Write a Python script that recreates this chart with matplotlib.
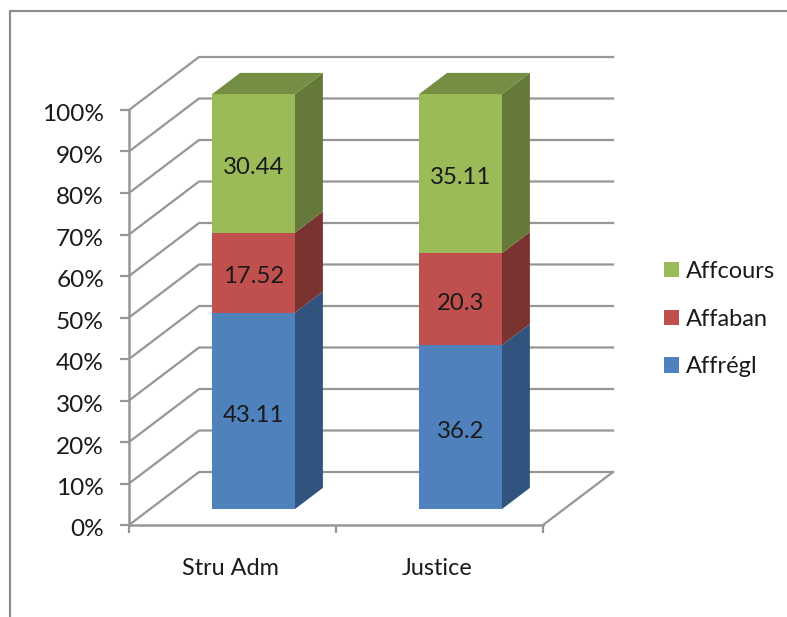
import numpy as np
import matplotlib
matplotlib.use('Agg')
import matplotlib.pyplot as plt
from matplotlib.lines import Line2D
from matplotlib.patches import Patch, Polygon
from matplotlib.transforms import ScaledTranslation

categories = ['Stru Adm', 'Justice']
series_names = ['Affrégl', 'Affaban', 'Affcours']
affregl = [43.11, 36.2]
affaban = [17.52, 20.3]
affcours = [30.44, 35.11]
percent_ticks = [0, 10, 20, 30, 40, 50, 60, 70, 80, 90, 100]

front_colors = ['#4F81BD', '#C0504D', '#9BBB59']
side_colors = ['#31547E', '#7A3330', '#64793A']
top_color = '#748E43'
grid_color = '#969696'
text_color = '#1a1a1a'

plt.rcParams['font.family'] = ['Lato', 'DejaVu Sans']

W, H = 787, 617
fig = plt.figure(figsize=(W / 100, H / 100), dpi=100)

# plot area is the front plane of the 3D box
ax = fig.add_axes([129 / W, 1 - 525 / H, 414 / W, 415 / H])
ax.set_xlim(0, 2)
ax.set_ylim(0, 100)
ax.patch.set_visible(False)

# wall depth, in axis units (70 px right, 53 px up)
wall_dx = 70 / 207
wall_dy = 53 / 4.15


def project(x, y, depth):
    """Oblique projection: depth 0 is the front plane, depth 1 the back wall."""
    return x + depth * wall_dx, y + depth * wall_dy


def face(points, color, z):
    ax.add_patch(Polygon(points, closed=True, facecolor=color, edgecolor='none',
                         clip_on=False, zorder=z))


# gridlines run across the floor/side wall then along the back wall
for p in percent_ticks:
    bx, by = project(0, p, 1)
    ex, ey = project(2, p, 1)
    ax.plot([0, bx, ex], [p, by, ey], color=grid_color, lw=1.6,
            clip_on=False, zorder=1, solid_joinstyle='miter')
fx, fy = project(2, 0, 1)
ax.plot([2, fx], [0, fy], color=grid_color, lw=1.6, clip_on=False, zorder=1)

# stacked columns normalised to 100 %
values = np.array([affregl, affaban, affcours])
shares = values / values.sum(axis=0) * 100
bar_width = 0.4
d0, d1 = 0.3, 0.7

for i, cat in enumerate(categories):
    left = i + 0.5 - bar_width / 2
    right = left + bar_width
    base = 0
    for s in range(len(series_names)):
        top = base + shares[s, i]
        front = [project(left, base, d0), project(right, base, d0),
                 project(right, top, d0), project(left, top, d0)]
        side = [project(right, base, d0), project(right, base, d1),
                project(right, top, d1), project(right, top, d0)]
        face(side, side_colors[s], 3)
        face(front, front_colors[s], 4)
        cx, cy = project(i + 0.5, (base + top) / 2, d0)
        ax.text(cx, cy - 1.0, f'{values[s, i]:g}', ha='center', va='center',
                fontsize=17.2, color=text_color, zorder=6)
        base = top
    roof = [project(left, 100, d0), project(right, 100, d0),
            project(right, 100, d1), project(left, 100, d1)]
    face(roof, top_color, 5)

# axes: percent ticks on the left, category labels between the x ticks
for side in ['top', 'right']:
    ax.spines[side].set_visible(False)
for side in ['left', 'bottom']:
    ax.spines[side].set_color(grid_color)
    ax.spines[side].set_linewidth(1.8)
    ax.spines[side].set_zorder(2)

ax.set_yticks(percent_ticks)
ax.set_yticklabels([f'{p}%' for p in percent_ticks])
ax.tick_params(axis='y', length=6.5, width=1.6, color=grid_color, pad=11.5,
               labelsize=17.6, labelcolor=text_color)
# percent labels sit slightly under their ticks
nudge = ScaledTranslation(0, -3 / 100, fig.dpi_scale_trans)
for label in ax.get_yticklabels():
    label.set_transform(label.get_transform() + nudge)
ax.set_xticks([0, 1, 2])
ax.set_xticklabels([])
ax.tick_params(axis='x', length=6, width=1.6, color=grid_color)
ax.set_xticks([0.49, 1.49], minor=True)
ax.set_xticklabels(categories, minor=True)
ax.tick_params(axis='x', which='minor', length=0, pad=24, labelsize=16.8,
               labelcolor=text_color)

handles = [Patch(facecolor=front_colors[s], edgecolor='none')
           for s in range(len(series_names))][::-1]
fig.legend(handles, series_names[::-1], loc='center left',
           bbox_to_anchor=(643 / W, 1 - 319 / H), frameon=False, fontsize=17,
           handlelength=0.62, handleheight=0.62, handletextpad=0.3,
           labelspacing=1.13, labelcolor=text_color)

# chart border, only the top and left edges are inside the image
fig.add_artist(Line2D([10 / W, 10 / W, 1], [0, 1 - 11 / H, 1 - 11 / H],
                      color='#8c8c8c', lw=1.6))

fig.savefig('out.png', dpi=100)
